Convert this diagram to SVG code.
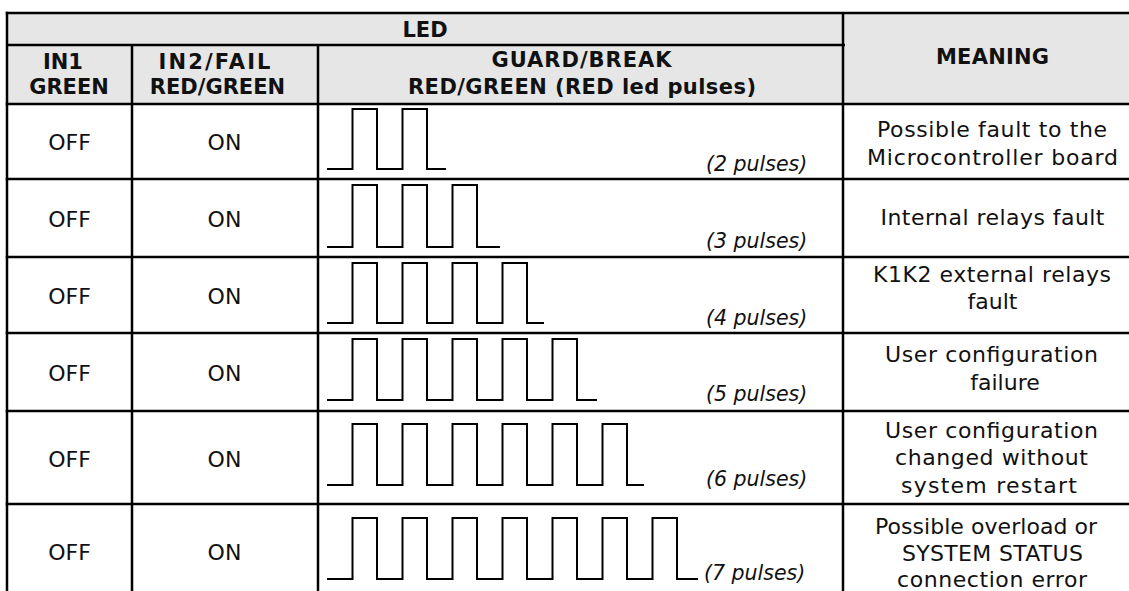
<svg xmlns="http://www.w3.org/2000/svg" width="1129" height="591" viewBox="0 0 1129 591">
  <style>
    .bg { fill: #ffffff; }
    .hdr { fill: #e6e6e6; }
    .grid line { stroke: #000; stroke-width: 2.5; }
    .wave { fill: none; stroke: #000; stroke-width: 2; stroke-linejoin: miter; }
    text { font-family: "DejaVu Sans", "Verdana", sans-serif; fill: #111; }
    .h { font-weight: bold; font-size: 21px; text-anchor: middle; }
    .c { font-size: 22px; text-anchor: middle; }
    .m { font-size: 22px; text-anchor: middle; }
    .p { font-size: 20.5px; font-style: italic; }
  </style>
  <rect class="bg" x="0" y="0" width="1129" height="591"/>
  <rect class="hdr" x="7" y="13" width="1122" height="91"/>

  <g id="header">
    <text class="h" x="425" y="37">LED</text>
    <text class="h" x="63" y="69">IN1</text>
    <text class="h" x="69" y="94">GREEN</text>
    <text class="h" x="214.5" y="69" textLength="112" lengthAdjust="spacing">IN2/FAIL</text>
    <text class="h" x="217.5" y="94">RED/GREEN</text>
    <text class="h" x="581.5" y="67" textLength="180" lengthAdjust="spacing">GUARD/BREAK</text>
    <text class="h" x="582" y="94" textLength="348" lengthAdjust="spacing">RED/GREEN (RED led pulses)</text>
    <text class="h" x="992.5" y="64" textLength="113" lengthAdjust="spacing">MEANING</text>
  </g>

  <g id="row1">
    <text class="c" x="69.5" y="150">OFF</text>
    <text class="c" x="224.5" y="150">ON</text>
    <path class="wave" d="M327,169H352.5V109H377V169H402.5V109H427V169H446"/>
    <text class="p" x="706" y="171">(2 pulses)</text>
    <text class="m" x="992" y="137" textLength="230" lengthAdjust="spacing">Possible fault to the</text>
    <text class="m" x="992.5" y="165" textLength="251" lengthAdjust="spacing">Microcontroller board</text>
  </g>

  <g id="row2">
    <text class="c" x="69.5" y="227">OFF</text>
    <text class="c" x="224.5" y="227">ON</text>
    <path class="wave" d="M327,247H352.5V185H377V247H402.5V185H427V247H452.5V185H477V247H500"/>
    <text class="p" x="706" y="248">(3 pulses)</text>
    <text class="m" x="992.5" y="225" textLength="224" lengthAdjust="spacing">Internal relays fault</text>
  </g>

  <g id="row3">
    <text class="c" x="69.5" y="304">OFF</text>
    <text class="c" x="224.5" y="304">ON</text>
    <path class="wave" d="M327,323H352.5V263H377V323H402.5V263H427V323H452.5V263H477V323H502.5V263H527V323H544"/>
    <text class="p" x="706" y="325">(4 pulses)</text>
    <text class="m" x="992" y="282" textLength="238" lengthAdjust="spacing">K1K2 external relays</text>
    <text class="m" x="992.5" y="309">fault</text>
  </g>

  <g id="row4">
    <text class="c" x="69.5" y="381">OFF</text>
    <text class="c" x="224.5" y="381">ON</text>
    <path class="wave" d="M327,400H352.5V339H377V400H402.5V339H427V400H452.5V339H477V400H502.5V339H527V400H552.5V339H577V400H597"/>
    <text class="p" x="706" y="401">(5 pulses)</text>
    <text class="m" x="991.5" y="362" textLength="213" lengthAdjust="spacing">User configuration</text>
    <text class="m" x="1005" y="390">failure</text>
  </g>

  <g id="row5">
    <text class="c" x="69.5" y="466.5">OFF</text>
    <text class="c" x="224.5" y="466.5">ON</text>
    <path class="wave" d="M327,485H352.5V424H377V485H402.5V424H427V485H452.5V424H477V485H502.5V424H527V485H552.5V424H577V485H602.5V424H627V485H644"/>
    <text class="p" x="706" y="486">(6 pulses)</text>
    <text class="m" x="991.5" y="437.5" textLength="213" lengthAdjust="spacing">User configuration</text>
    <text class="m" x="991.5" y="465" textLength="193" lengthAdjust="spacing">changed without</text>
    <text class="m" x="989" y="493" textLength="176" lengthAdjust="spacing">system restart</text>
  </g>

  <g id="row6">
    <text class="c" x="69.5" y="559.5">OFF</text>
    <text class="c" x="224.5" y="559.5">ON</text>
    <path class="wave" d="M327,579H352.5V518H377V579H402.5V518H427V579H452.5V518H477V579H502.5V518H527V579H552.5V518H577V579H602.5V518H627V579H652.5V518H677V579H698"/>
    <text class="p" x="704" y="580">(7 pulses)</text>
    <text class="m" x="986" y="533.5" textLength="222" lengthAdjust="spacing">Possible overload or</text>
    <text class="m" x="992.5" y="561" textLength="181" lengthAdjust="spacing">SYSTEM STATUS</text>
    <text class="m" x="992" y="587" textLength="190" lengthAdjust="spacing">connection error</text>
  </g>

  <g id="grid" class="grid">
    <line x1="5.75" y1="13" x2="1129" y2="13"/>
    <line x1="7" y1="45" x2="845" y2="45"/>
    <line x1="5.75" y1="104" x2="1129" y2="104"/>
    <line x1="5.75" y1="179" x2="1129" y2="179"/>
    <line x1="5.75" y1="257" x2="1129" y2="257"/>
    <line x1="5.75" y1="333" x2="1129" y2="333"/>
    <line x1="5.75" y1="411" x2="1129" y2="411"/>
    <line x1="5.75" y1="504" x2="1129" y2="504"/>
    <line x1="7" y1="11.75" x2="7" y2="600"/>
    <line x1="132" y1="45" x2="132" y2="600"/>
    <line x1="318" y1="45" x2="318" y2="600"/>
    <line x1="843" y1="13" x2="843" y2="600"/>
  </g>
</svg>
